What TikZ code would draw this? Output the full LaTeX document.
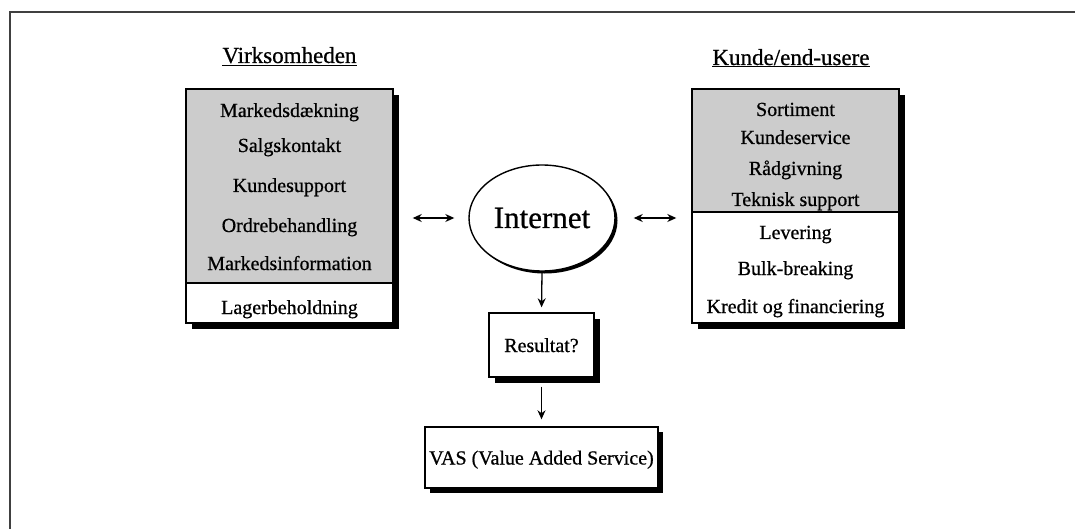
\documentclass[tikz,border=0pt]{standalone}
\usepackage{fontspec}
\setmainfont{Liberation Serif}[FakeBold=0.7]
\usetikzlibrary{arrows.meta,calc,shapes.geometric}
\definecolor{boxshade}{gray}{0.80}
\definecolor{framegray}{gray}{0.25}
\begin{document}
\begin{tikzpicture}[x=1pt,y=-1pt,
  panel/.style={draw=black, line width=1.4pt, fill=white, inner sep=0pt, rectangle},
  txt/.style={anchor=base, inner sep=0pt, font=\fontsize{20}{24}\selectfont},
  heading/.style={anchor=base, inner sep=0pt, font=\fontsize{23}{27}\selectfont},
  arr/.style={line width=1.3pt, -{Stealth[length=9pt,width=8pt]}},
  darr/.style={line width=1.3pt, {Stealth[length=9pt,width=8pt]}-{Stealth[length=9pt,width=8pt]}}
]
\useasboundingbox (0,0) rectangle (1075,529);

% outer frame (top and left edges)
\draw[framegray, line width=2pt] (10,529) -- (10,12.5) -- (1075,12.5);

% ---------- left panel: Virksomheden ----------
\node[heading] (ltitle) at (289.5,63) {\underline{Virksomheden}};
\fill[black] (192,95) rectangle (399,329);
\node[panel, minimum width=207pt, minimum height=234pt] (lbox) at (289.5,206) {};
\fill[boxshade] (186.7,89.7) rectangle (392.3,283);
\draw[line width=1.4pt] (186,283) -- (393,283);
\draw[line width=1.4pt] (lbox.north west) rectangle (lbox.south east);
\node[txt] (l1) at (289.5,117) {Markedsdækning};
\node[txt] (l2) at (289.5,152) {Salgskontakt};
\node[txt] (l3) at (289.5,192) {Kundesupport};
\node[txt] (l4) at (289.5,232) {Ordrebehandling};
\node[txt] (l5) at (289.5,270) {Markedsinformation};
\node[txt] (l6) at (289.5,314) {Lagerbeholdning};

% ---------- right panel: Kunde/end-usere ----------
\node[heading] (rtitle) at (791,65) {\underline{Kunde/end-usere}};
\fill[black] (698,95) rectangle (905,329);
\node[panel, minimum width=207pt, minimum height=234pt] (rbox) at (795.5,206) {};
\fill[boxshade] (692.7,89.7) rectangle (898.3,212);
\draw[line width=1.4pt] (692,212) -- (899,212);
\draw[line width=1.4pt] (rbox.north west) rectangle (rbox.south east);
\node[txt] (r1) at (795.5,116) {Sortiment};
\node[txt] (r2) at (795.5,144) {Kundeservice};
\node[txt] (r3) at (795.5,175) {Rådgivning};
\node[txt] (r4) at (795.5,206) {Teknisk support};
\node[txt] (r5) at (795.5,239) {Levering};
\node[txt] (r6) at (795.5,275) {Bulk-breaking};
\node[txt] (r7) at (795.5,313) {Kredit og financiering};

% ---------- centre: Internet ----------
\fill[black] (544.5,220.5) ellipse [x radius=73pt, y radius=53pt];
\node[ellipse, draw=black, line width=1.4pt, fill=white, inner sep=0pt,
      minimum width=146pt, minimum height=106pt,
      text height=22pt, text depth=2pt,
      font=\fontsize{31}{36}\selectfont] (inet) at (542,218) {Internet};

% ---------- result boxes ----------
\fill[black] (495,319) rectangle (600,383);
\node[panel, minimum width=105pt, minimum height=64pt,
      text height=14pt, text depth=0pt, font=\fontsize{20}{24}\selectfont] (res) at (541.5,345) {Resultat?};
\fill[black] (430,432) rectangle (663,493);
\node[panel, minimum width=233pt, minimum height=61pt,
      text height=14pt, text depth=0pt, font=\fontsize{20}{24}\selectfont] (vas) at (541.5,457.5) {VAS (Value Added Service)};

% ---------- connectors ----------
\draw[darr, shorten <=19pt, shorten >=14pt] (lbox.east |- inet.west) -- (inet.west);
\draw[darr, shorten <=18pt, shorten >=15pt] (inet.east) -- (rbox.west |- inet.east);
\draw[arr, shorten >=5pt] (inet.south) -- (res.north);
\draw[arr, shorten <=9pt, shorten >=7pt] (res.south) -- (vas.north);
\end{tikzpicture}
\end{document}
